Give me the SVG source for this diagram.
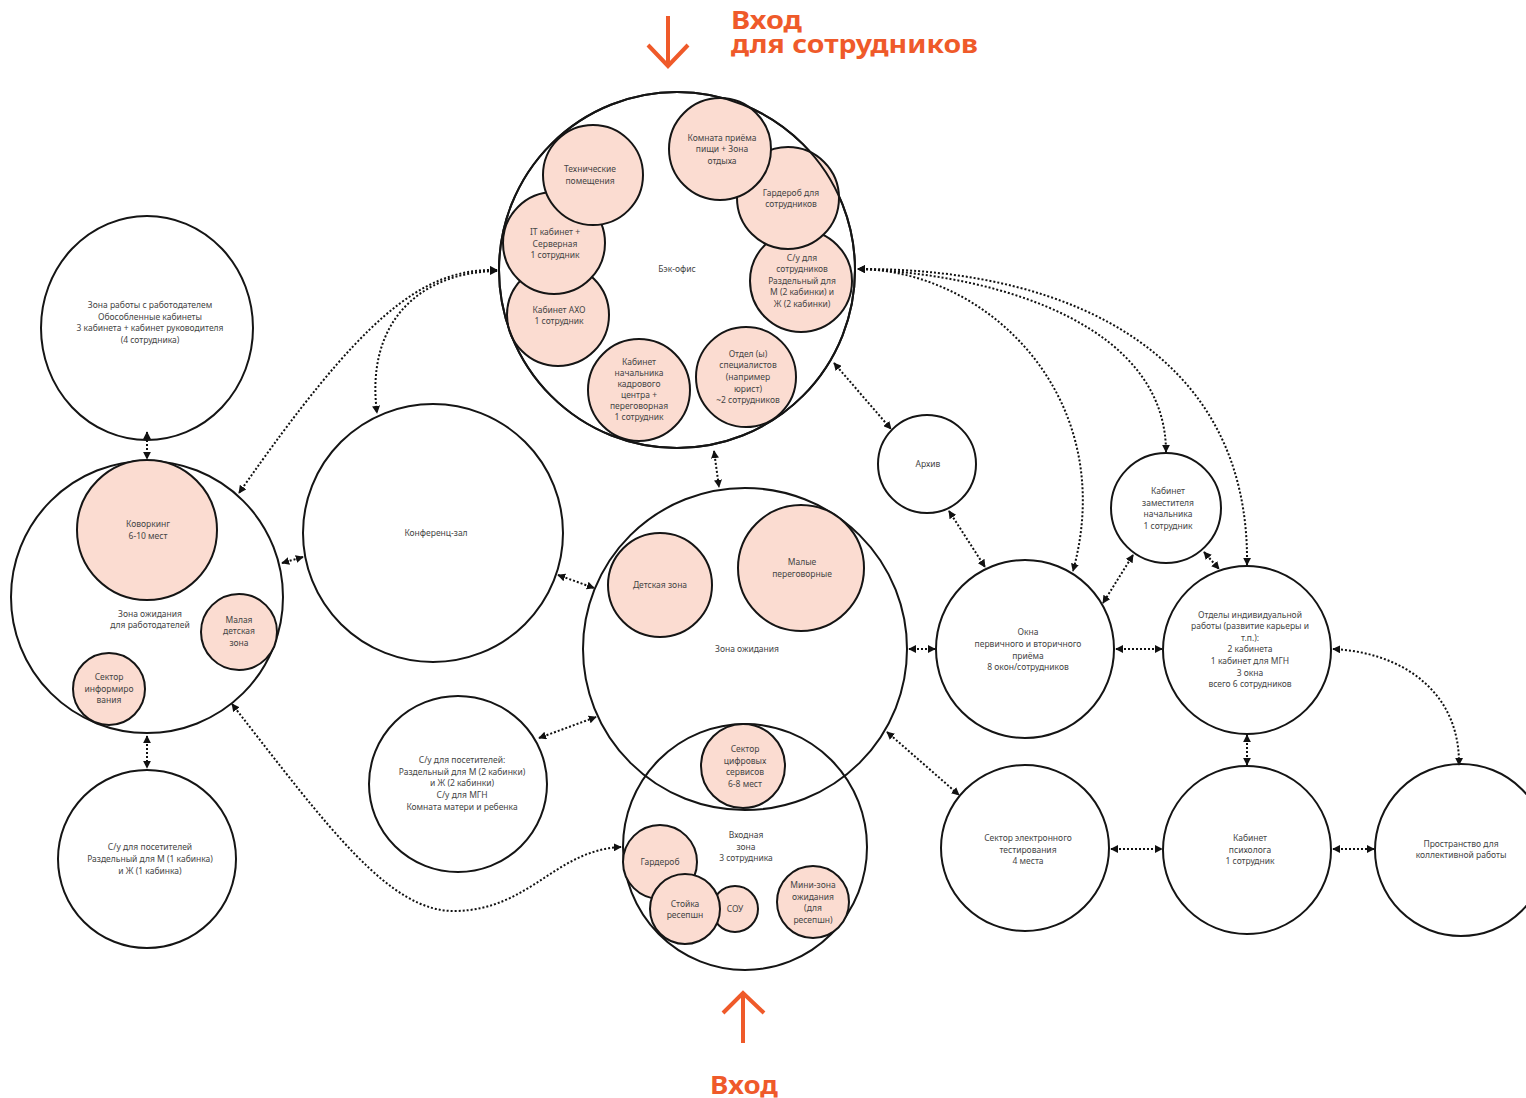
<svg xmlns="http://www.w3.org/2000/svg" width="1526" height="1098" viewBox="0 0 1526 1098">
<style>
.c{fill:none;stroke:#151515;stroke-width:2}
.w{fill:#fff;stroke:#151515;stroke-width:2}
.p{fill:#fbdcd1;stroke:#151515;stroke-width:2}
text{font-family:"Noto Sans","Liberation Sans",sans-serif;font-size:8.5px;fill:#454545;text-anchor:middle}
.cn{fill:none;stroke:#111;stroke-width:2;stroke-dasharray:2 2;marker-start:url(#ah);marker-end:url(#ah)}
.o{fill:#ef5a2a;font-weight:700;font-size:25px;text-anchor:start}
.oa{fill:none;stroke:#ef5a2a;stroke-width:4}
</style>
<defs>
<marker id="ah" viewBox="0 0 10 10" refX="9" refY="5" markerWidth="4" markerHeight="4" orient="auto-start-reverse"><path d="M0,0 L10,5 L0,10 z" fill="#111"/></marker>
</defs>
<rect width="1526" height="1098" fill="#fff"/>

<g id="title-top">
<path class="oa" d="M668 16 V67 M648 45 L668 66 L688 45"/>
<text class="o" x="731" y="29" textLength="71" lengthAdjust="spacingAndGlyphs">Вход</text>
<text class="o" x="731" y="53" textLength="247" lengthAdjust="spacingAndGlyphs">для сотрудников</text>
</g>
<g id="title-bottom">
<path class="oa" d="M743 1043 V992 M723 1013 L743 993 L764 1013"/>
<text class="o" x="710" y="1094" textLength="68" lengthAdjust="spacingAndGlyphs">Вход</text>
</g>

<g id="connectors">
<path class="cn" d="M147 432 L147 459"/>
<path class="cn" d="M147 736 L147 768"/>
<path class="cn" d="M497 270 C420 268 360 320 239 493"/>
<path class="cn" d="M497 271 C420 272 365 322 377 413"/>
<path class="cn" d="M834 363 L891 429"/>
<path class="cn" d="M714 451 L719 487"/>
<path class="cn" d="M858 269 C990 270 1120 400 1073 571"/>
<path class="cn" d="M858 269 C1010 275 1166 330 1166 452"/>
<path class="cn" d="M858 269 C1080 268 1250 360 1247 565"/>
<path class="cn" d="M949 511 L985 567"/>
<path class="cn" d="M1133 555 L1103 603"/>
<path class="cn" d="M1204 552 L1219 569"/>
<path class="cn" d="M909 649 L935 649"/>
<path class="cn" d="M1116 649 L1162 649"/>
<path class="cn" d="M1247 735 L1247 765"/>
<path class="cn" d="M1333 649 C1400 652 1460 690 1459 765"/>
<path class="cn" d="M1111 849 L1162 849"/>
<path class="cn" d="M1333 849 L1374 849"/>
<path class="cn" d="M887 732 L959 795"/>
<path class="cn" d="M558 575 L594 588"/>
<path class="cn" d="M282 563 L303 557"/>
<path class="cn" d="M539 738 L596 717"/>
<path class="cn" d="M232 704 C330 830 390 912 455 911 C530 910 555 850 621 847"/>
</g>

<g id="employer-zone">
<ellipse class="c" cx="147" cy="328" rx="106" ry="112"/>
<text x="150" y="308">Зона работы с работодателем</text>
<text x="150" y="319.5">Обособленные кабинеты</text>
<text x="150" y="331">3 кабинета + кабинет руководителя</text>
<text x="150" y="342.5">(4 сотрудника)</text>
</g>

<g id="employer-waiting">
<circle class="c" cx="147" cy="597" r="136"/>
<text x="150" y="617">Зона ожидания</text>
<text x="150" y="628">для работодателей</text>
</g>
<g id="coworking">
<circle class="p" cx="147" cy="530" r="70"/>
<text x="148" y="527">Коворкинг</text>
<text x="148" y="539">6-10 мест</text>
</g>
<g id="small-kids">
<circle class="p" cx="239" cy="632" r="38"/>
<text x="239" y="623">Малая</text>
<text x="239" y="634">детская</text>
<text x="239" y="646">зона</text>
</g>
<g id="info-sector">
<circle class="p" cx="109" cy="689" r="36"/>
<text x="109" y="680">Сектор</text>
<text x="109" y="692">информиро</text>
<text x="109" y="703">вания</text>
</g>

<g id="wc-left">
<circle class="c" cx="147" cy="859" r="89"/>
<text x="150" y="850">С/у для посетителей</text>
<text x="150" y="862">Раздельный для М (1 кабинка)</text>
<text x="150" y="874">и Ж (1 кабинка)</text>
</g>

<g id="conference">
<ellipse class="c" cx="433" cy="533" rx="130" ry="129"/>
<text x="436" y="536">Конференц-зал</text>
</g>

<g id="wc-mid">
<ellipse class="c" cx="458" cy="784" rx="89" ry="88"/>
<text x="462" y="763">С/у для посетителей:</text>
<text x="462" y="775">Раздельный для М (2 кабинки)</text>
<text x="462" y="786">и Ж (2 кабинки)</text>
<text x="462" y="798">С/у для МГН</text>
<text x="462" y="810">Комната матери и ребенка</text>
</g>

<g id="back-office">
<circle class="w" cx="677" cy="270" r="178"/>
<text x="677" y="272">Бэк-офис</text>
</g>
<g id="akho">
<circle class="p" cx="558" cy="315" r="51"/>
<text x="559" y="313">Кабинет АХО</text>
<text x="559" y="324">1 сотрудник</text>
</g>
<g id="it">
<circle class="p" cx="554" cy="243" r="51"/>
<text x="555" y="235">IT кабинет +</text>
<text x="555" y="247">Серверная</text>
<text x="555" y="258">1 сотрудник</text>
</g>
<g id="tech">
<circle class="p" cx="593" cy="175" r="50"/>
<text x="590" y="172">Технические</text>
<text x="590" y="184">помещения</text>
</g>
<g id="hr-head">
<circle class="p" cx="639" cy="390" r="51"/>
<text x="639" y="365">Кабинет</text>
<text x="639" y="376">начальника</text>
<text x="639" y="387">кадрового</text>
<text x="639" y="398">центра +</text>
<text x="639" y="409">переговорная</text>
<text x="639" y="420">1 сотрудник</text>
</g>
<g id="specialists">
<circle class="p" cx="746" cy="377" r="50"/>
<text x="748" y="357">Отдел (ы)</text>
<text x="748" y="368">специалистов</text>
<text x="748" y="380">(например</text>
<text x="748" y="392">юрист)</text>
<text x="748" y="403">~2 сотрудников</text>
</g>
<g id="wc-staff">
<circle class="p" cx="801" cy="281" r="51"/>
<text x="802" y="261">С/у для</text>
<text x="802" y="272">сотрудников</text>
<text x="802" y="284">Раздельный для</text>
<text x="802" y="295">М (2 кабинки) и</text>
<text x="802" y="307">Ж (2 кабинки)</text>
</g>
<g id="wardrobe-staff">
<circle class="p" cx="788" cy="198" r="51"/>
<text x="791" y="196">Гардероб для</text>
<text x="791" y="207">сотрудников</text>
</g>
<g id="kitchen">
<circle class="p" cx="720" cy="149" r="51"/>
<text x="722" y="141">Комната приёма</text>
<text x="722" y="152">пищи + Зона</text>
<text x="722" y="164">отдыха</text>
</g>
<circle class="c" cx="677" cy="270" r="178"/>

<g id="waiting">
<ellipse class="c" cx="745" cy="649" rx="162" ry="161"/>
<text x="747" y="652">Зона ожидания</text>
</g>
<g id="kids">
<circle class="p" cx="660" cy="585" r="52"/>
<text x="660" y="588">Детская зона</text>
</g>
<g id="meeting">
<circle class="p" cx="801" cy="568" r="63"/>
<text x="802" y="565">Малые</text>
<text x="802" y="577">переговорные</text>
</g>
<g id="entrance">
<ellipse class="c" cx="745" cy="847" rx="122" ry="123"/>
<text x="746" y="838">Входная</text>
<text x="746" y="850">зона</text>
<text x="746" y="861">3 сотрудника</text>
</g>
<g id="digital">
<circle class="p" cx="743" cy="766" r="42"/>
<text x="745" y="752">Сектор</text>
<text x="745" y="764">цифровых</text>
<text x="745" y="775">сервисов</text>
<text x="745" y="787">6-8 мест</text>
</g>
<g id="wardrobe">
<circle class="p" cx="660" cy="862" r="37"/>
<text x="660" y="865">Гардероб</text>
</g>
<g id="sou">
<circle class="p" cx="735" cy="909" r="23"/>
<text x="735" y="912">СОУ</text>
</g>
<g id="reception">
<circle class="p" cx="685" cy="909" r="35"/>
<text x="685" y="907">Стойка</text>
<text x="685" y="918">ресепшн</text>
</g>
<g id="mini-waiting">
<circle class="p" cx="813" cy="902" r="36"/>
<text x="813" y="888">Мини-зона</text>
<text x="813" y="900">ожидания</text>
<text x="813" y="911">(для</text>
<text x="813" y="923">ресепшн)</text>
</g>

<g id="archive">
<circle class="c" cx="927" cy="464" r="49"/>
<text x="928" y="467">Архив</text>
</g>
<g id="deputy">
<circle class="c" cx="1166" cy="508" r="55"/>
<text x="1168" y="494">Кабинет</text>
<text x="1168" y="506">заместителя</text>
<text x="1168" y="517">начальника</text>
<text x="1168" y="529">1 сотрудник</text>
</g>
<g id="windows">
<circle class="c" cx="1025" cy="649" r="89"/>
<text x="1028" y="635">Окна</text>
<text x="1028" y="647">первичного и вторичного</text>
<text x="1028" y="659">приёма</text>
<text x="1028" y="670">8 окон/сотрудников</text>
</g>
<g id="individual">
<circle class="c" cx="1247" cy="650" r="84"/>
<text x="1250" y="618">Отделы индивидуальной</text>
<text x="1250" y="629">работы (развитие карьеры и</text>
<text x="1250" y="641">т.п.):</text>
<text x="1250" y="652">2 кабинета</text>
<text x="1250" y="664">1 кабинет для МГН</text>
<text x="1250" y="676">3 окна</text>
<text x="1250" y="687">всего 6 сотрудников</text>
</g>
<g id="testing">
<ellipse class="c" cx="1025" cy="848" rx="84" ry="83"/>
<text x="1028" y="841">Сектор электронного</text>
<text x="1028" y="853">тестирования</text>
<text x="1028" y="864">4 места</text>
</g>
<g id="psychologist">
<circle class="c" cx="1247" cy="850" r="84"/>
<text x="1250" y="841">Кабинет</text>
<text x="1250" y="853">психолога</text>
<text x="1250" y="864">1 сотрудник</text>
</g>
<g id="collective">
<circle class="c" cx="1461" cy="850" r="86"/>
<text x="1461" y="847">Пространство для</text>
<text x="1461" y="858">коллективной работы</text>
</g>
</svg>
